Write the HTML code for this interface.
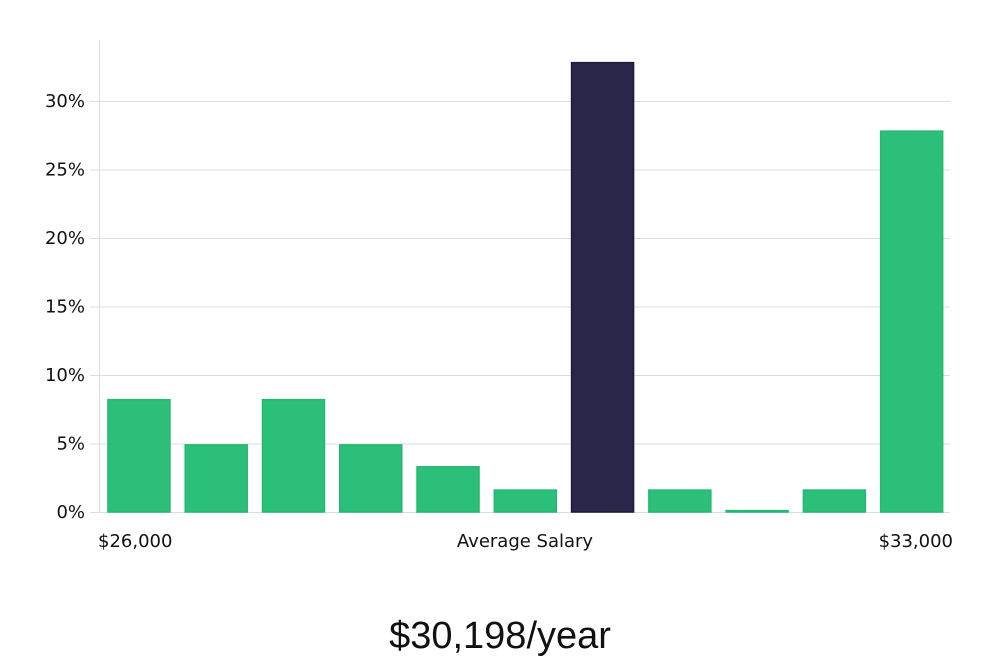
<!DOCTYPE html>
<html><head><meta charset="utf-8"><style>
body{margin:0;background:#fff;font-family:"DejaVu Sans","Liberation Sans",sans-serif;}
svg text{fill:#111;}
</style></head><body>
<svg width="1000" height="660" viewBox="0 0 1000 660">
<g id="grid"></g>
<g id="bars"></g>
<g id="labels"></g>
<line x1="99.5" y1="40" x2="99.5" y2="512" stroke="#ddd" stroke-width="1"/>
<text x="98" y="547" font-size="18">$26,000</text>
<text x="525" y="547" font-size="18" text-anchor="middle">Average Salary</text>
<text x="953" y="547" font-size="18" text-anchor="end">$33,000</text>
<text x="500" y="648" font-size="38" text-anchor="middle" font-family="Liberation Sans, sans-serif" style="font-weight:300">$30,198/year</text>
</svg>
<script>
const values=[8.2,4.9,8.2,4.9,3.3,1.6,32.8,1.6,0.1,1.6,27.8];
const highlight=[false,false,false,false,false,false,true,false,false,false,false];
const yTicks=[0,5,10,15,20,25,30];
const yTickLabels=["0%","5%","10%","15%","20%","25%","30%"];
const NS="http://www.w3.org/2000/svg";
const y0=512,pxPer=13.7,x0=100,x1=950;
const y=v=>y0-v*pxPer;
const step=(x1-x0)/values.length;
const bw=62;
const grid=document.getElementById('grid'),bars=document.getElementById('bars'),labels=document.getElementById('labels');
yTicks.forEach((t,i)=>{
 const l=document.createElementNS(NS,'line');
 l.setAttribute('x1',90);l.setAttribute('x2',x1);
 l.setAttribute('y1',y(t)+0.5);l.setAttribute('y2',y(t)+0.5);
 l.setAttribute('stroke','#ddd');
 
 
 grid.appendChild(l);
 const tx=document.createElementNS(NS,'text');
 tx.setAttribute('x',85);tx.setAttribute('y',y(t)+6);
 tx.setAttribute('text-anchor','end');tx.setAttribute('font-size','18');
 tx.textContent=yTickLabels[i];
 
 
 labels.appendChild(tx);
});
values.forEach((v,i)=>{
 const r=document.createElementNS(NS,'rect');
 const cx=x0+step*(i+0.5)+0.3;
 r.setAttribute('x',cx-bw/2);r.setAttribute('width',bw);
 r.setAttribute('y',y(v));r.setAttribute('height',Math.max(1,v*pxPer));
 r.setAttribute('fill',highlight[i]?'#2a2749':'#2bbf7a');
 r.setAttribute('stroke',highlight[i]?'#1d1a40':'#25b872');
 r.setAttribute('stroke-width','1.5');
 
 
 bars.appendChild(r);
});
</script>
</body></html>
